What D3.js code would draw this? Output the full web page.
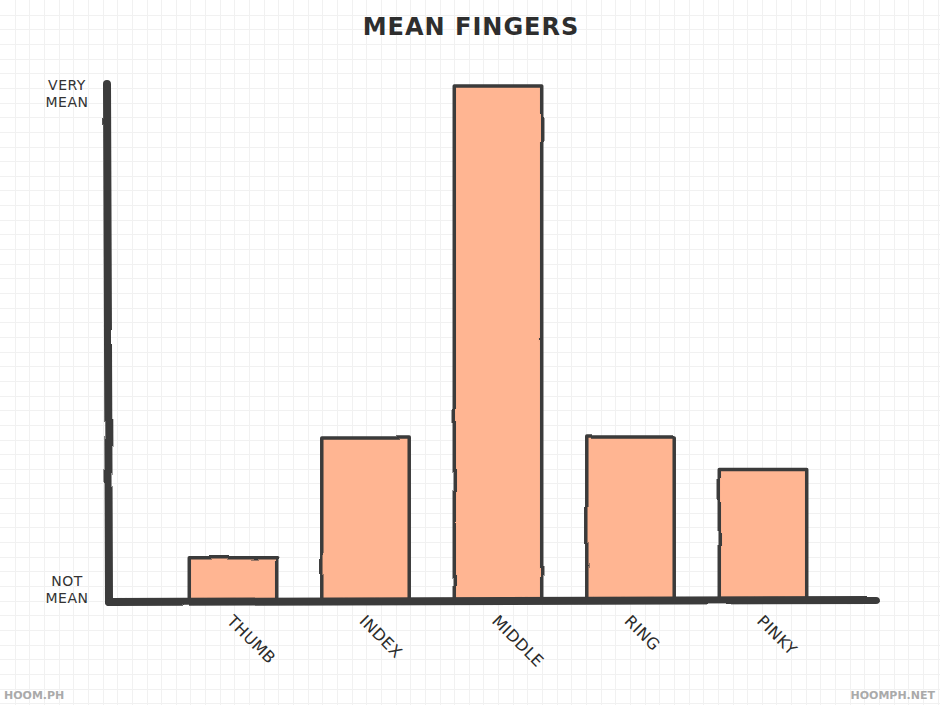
<!DOCTYPE html>
<html>
<head>
<meta charset="utf-8">
<script src="https://d3js.org/d3.v7.min.js"></script>
<style>
  body { margin: 0; background: #fff; }
  svg text { font-family: "DejaVu Sans", sans-serif; fill: #333; }
</style>
</head>
<body>
<svg id="chart" width="940" height="705"></svg>
<script>
// data
var fingers = ['THUMB', 'INDEX', 'MIDDLE', 'RING', 'PINKY'];
var meanness = [8.2, 31.5, 100, 31.7, 25.4];
var yTickValues = [2, 98.5];
var yTickLabels = [['NOT', 'MEAN'], ['VERY', 'MEAN']];

var width = 940, height = 705;
var svg = d3.select('#chart');

// wobbly hand-drawn look
var defs = svg.append('defs');
var filt = defs.append('filter').attr('id', 'sketch')
  .attr('x', '-5%').attr('y', '-5%').attr('width', '110%').attr('height', '110%');
filt.append('feTurbulence').attr('type', 'fractalNoise')
  .attr('baseFrequency', 0.02).attr('numOctaves', 2).attr('seed', 3).attr('result', 'noise');
filt.append('feDisplacementMap').attr('in', 'SourceGraphic').attr('in2', 'noise')
  .attr('scale', 2.5).attr('xChannelSelector', 'R').attr('yChannelSelector', 'G');

// graph paper
var gridStep = 14.65;
var grid = svg.append('g').attr('stroke', '#f1f1f1').attr('stroke-width', 1);
grid.selectAll('line.v').data(d3.range(gridStep, width, gridStep)).enter()
  .append('line').attr('class', 'v')
  .attr('x1', d => Math.round(d) + 0.5).attr('x2', d => Math.round(d) + 0.5)
  .attr('y1', 0).attr('y2', height);
grid.selectAll('line.h').data(d3.range(gridStep, height, gridStep)).enter()
  .append('line').attr('class', 'h')
  .attr('y1', d => Math.round(d) + 0.5).attr('y2', d => Math.round(d) + 0.5)
  .attr('x1', 0).attr('x2', width);

// scales
var x = d3.scaleBand().domain(fingers).range([166.75, 829.25])
  .paddingInner(0.34).paddingOuter(0.17);
var y = d3.scaleLinear().domain([0, 100]).range([600, 86]);

// bars
svg.append('g').attr('filter', 'url(#sketch)')
  .selectAll('rect').data(fingers).enter().append('rect')
  .attr('x', d => x(d))
  .attr('y', (d, i) => y(meanness[i]))
  .attr('width', x.bandwidth())
  .attr('height', (d, i) => y(0) - y(meanness[i]))
  .attr('fill', '#ffb592')
  .attr('stroke', '#3b3b3b')
  .attr('stroke-width', 3.5)
  .attr('stroke-linejoin', 'round');

// axes (thick marker strokes)
var axisG = svg.append('g').attr('filter', 'url(#sketch)')
  .attr('stroke', '#3a3a3a').attr('stroke-width', 8).attr('stroke-linecap', 'round');
axisG.append('line').attr('x1', 107).attr('x2', 109).attr('y1', 84).attr('y2', y(0) + 2);
axisG.append('line').attr('x1', 109).attr('x2', 876).attr('y1', y(0) + 2).attr('y2', y(0));

// y tick labels (two separate lines each)
var yAxis = d3.axisLeft(y).tickValues(yTickValues).tickSize(0).tickFormat('');
var yg = svg.append('g').attr('transform', 'translate(100,0)').call(yAxis);
yg.select('.domain').remove();
yg.selectAll('.tick').each(function(d, i) {
  var tick = d3.select(this);
  yTickLabels[i].forEach(function(s, k) {
    tick.append('text')
      .attr('text-anchor', 'middle').attr('x', -33)
      .attr('y', k === 0 ? -4 : 13)
      .style('font-size', '14px').style('letter-spacing', '0.5px')
      .text(s);
  });
});

// x tick labels, rotated
var xAxis = d3.axisBottom(x).tickSize(0);
var xg = svg.append('g').attr('transform', 'translate(0,' + y(0) + ')').call(xAxis);
xg.select('.domain').remove();
xg.selectAll('.tick text')
  .attr('y', 0).attr('dy', 0)
  .attr('text-anchor', 'start')
  .attr('transform', 'translate(-7,22) rotate(45)')
  .style('font-size', '16px').style('font-family', '"DejaVu Sans", sans-serif')
  .style('letter-spacing', '0.5px')
  .style('fill', '#2b2b2b');

// title
svg.append('text').attr('x', 471).attr('y', 35)
  .attr('text-anchor', 'middle')
  .style('font-size', '24px').style('font-weight', 'bold').style('letter-spacing', '1px')
  .style('fill', '#2e2e2e')
  .text('MEAN FINGERS');

// watermarks
svg.append('text').attr('x', 4).attr('y', 699)
  .style('font-size', '11px').style('font-weight', 'bold').style('fill', '#aaa')
  .text('HOOM.PH');
svg.append('text').attr('x', 935).attr('y', 699).attr('text-anchor', 'end')
  .style('font-size', '11px').style('font-weight', 'bold').style('fill', '#aaa')
  .text('HOOMPH.NET');
</script>
</body>
</html>
